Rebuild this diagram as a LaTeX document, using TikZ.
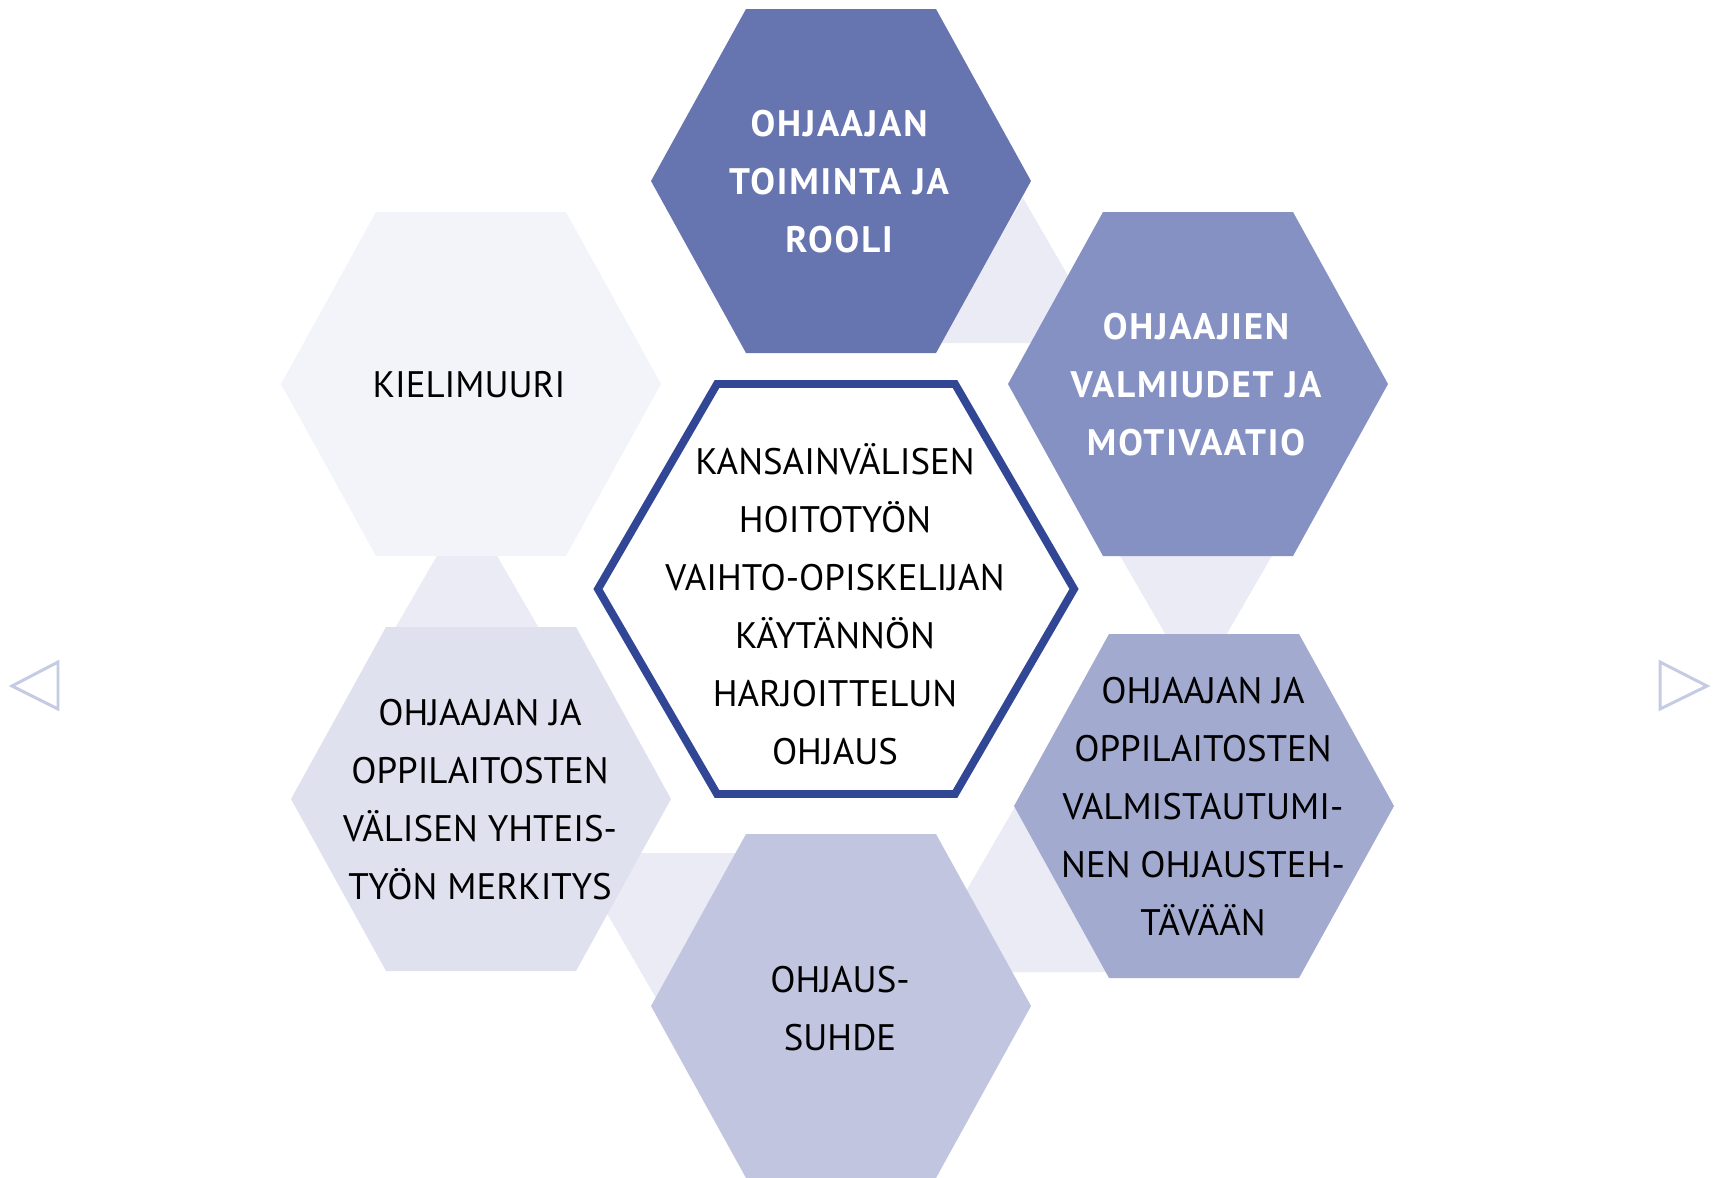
\documentclass[tikz,border=0pt]{standalone}
\usepackage{fontspec}
\setmainfont{PT Sans}
\usetikzlibrary{positioning}

\definecolor{hexRole}{HTML}{6674B0}
\definecolor{hexReady}{HTML}{8491C2}
\definecolor{hexPrep}{HTML}{A3AAD0}
\definecolor{hexRel}{HTML}{C1C5E0}
\definecolor{hexCoop}{HTML}{DFE1EF}
\definecolor{hexLang}{HTML}{F3F4F9}
\definecolor{linkfill}{HTML}{EAEBF5}
\definecolor{coreblue}{HTML}{324696}
\definecolor{navgray}{HTML}{C5CBE3}

% outer hexagon around a centre (x, y), fill colour
\newcommand{\hexa}[3]{%
  \fill[#3] (#1-190,#2) -- (#1-95,#2-172) -- (#1+95,#2-172)
    -- (#1+190,#2) -- (#1+95,#2+172) -- (#1-95,#2+172) -- cycle;}

\begin{document}
\begin{tikzpicture}[
    x=0.02cm, y=-0.02cm,
    label/.style={inner sep=0pt, align=center, font=\fontsize{21}{33}\selectfont},
    dark/.style={label, text=white, font=\fontsize{21}{33}\selectfont\bfseries\addfontfeatures{LetterSpace=5}},
    light/.style={label, text=black},
    link/.style={fill=linkfill},
    navarrow/.style={draw=navgray, line width=1.7pt, line join=miter}
]
    \useasboundingbox (0,0) rectangle (1719,1177);

    % links between neighbouring hexagons
    \fill[link] (1023,198) -- (939,343) -- (1107,343) -- cycle;
    \fill[link] (1112,542) -- (1280,542) -- (1196,687) -- cycle;
    \fill[link] (467,504) -- (383,649) -- (551,649) -- cycle;
    \fill[link] (572,853) -- (740,853) -- (656,998) -- cycle;
    \fill[link] (1019,800) -- (919,972) -- (1119,972) -- cycle;

    \hexa{841}{181}{hexRole}
    \hexa{1198}{384}{hexReady}
    \hexa{1204}{806}{hexPrep}
    \hexa{841}{1006}{hexRel}
    \hexa{481}{799}{hexCoop}
    \hexa{471}{384}{hexLang}

    \draw[draw=coreblue, fill=white, line width=4.5pt, line join=miter]
        (598,589) -- (717,384) -- (955,384) -- (1074,589) -- (955,794) -- (717,794) -- cycle;

    \node[dark] (role) at (839,182) {OHJAAJAN\\TOIMINTA JA\\ROOLI};
    \node[dark] (ready) at (1196,385) {OHJAAJIEN\\VALMIUDET JA\\MOTIVAATIO};
    \node[light] (prep) at (1203,807) {OHJAAJAN JA\\OPPILAITOSTEN\\VALMISTAUTUMI-\\NEN OHJAUSTEH-\\TÄVÄÄN};
    \node[light] (rel) at (840,1009) {OHJAUS-\\SUHDE};
    \node[light] (coop) at (480,800) {OHJAAJAN JA\\OPPILAITOSTEN\\VÄLISEN YHTEIS-\\TYÖN MERKITYS};
    \node[light] (lang) at (469,385) {KIELIMUURI};
    \node[light] (core) at (835,604) {KANSAINVÄLISEN\\HOITOTYÖN\\VAIHTO-OPISKELIJAN\\KÄYTÄNNÖN\\HARJOITTELUN\\OHJAUS};

    % paging arrows
    \draw[navarrow] (58,662) -- (12,686) -- (58,709) -- cycle;
    \draw[navarrow] (1660,662) -- (1707,686) -- (1660,709) -- cycle;
\end{tikzpicture}
\end{document}
